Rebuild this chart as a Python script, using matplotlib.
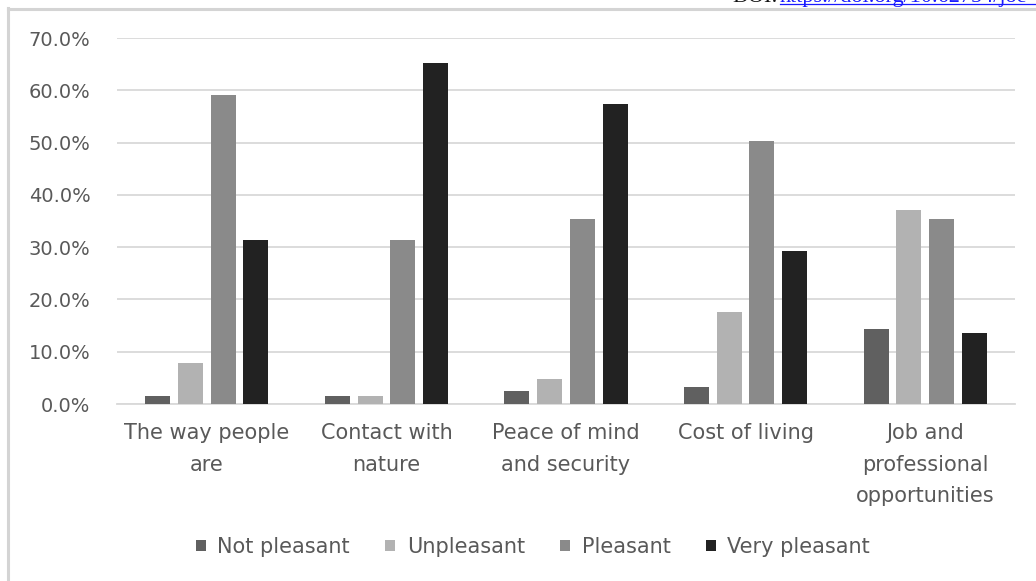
import matplotlib
matplotlib.use("Agg")
import matplotlib.pyplot as plt
import numpy as np
from matplotlib.ticker import PercentFormatter
from matplotlib.lines import Line2D
from matplotlib.patches import Patch

categories = ["The way people\nare", "Contact with\nnature", "Peace of mind\nand security",
              "Cost of living", "Job and\nprofessional\nopportunities"]
series_names = ["Not pleasant", "Unpleasant", "Pleasant", "Very pleasant"]
not_pleasant = [1.5, 1.5, 2.5, 3.2, 14.3]
unpleasant = [7.8, 1.5, 4.8, 17.6, 37.1]
pleasant = [59.1, 31.4, 35.3, 50.3, 35.3]
very_pleasant = [31.4, 65.2, 57.4, 29.3, 13.6]
yticks = [0, 10, 20, 30, 40, 50, 60, 70]

colors = ["#606060", "#b2b2b2", "#8a8a8a", "#222222"]
text_color = "#595959"
grid_color = "#d9d9d9"

plt.rcParams["font.family"] = ["DejaVu Sans"]

W, H = 1036, 581
fig = plt.figure(figsize=(W / 100, H / 100), dpi=100)
ax = fig.add_axes([117 / W, 1 - 404 / H, (1015 - 117) / W, (404 - 38) / H])

x = np.arange(len(categories))
slot = 0.182
width = 0.139
data = [not_pleasant, unpleasant, pleasant, very_pleasant]
for i, (vals, c, name) in enumerate(zip(data, colors, series_names)):
    ax.bar(x + (i - 1.5) * slot, vals, width, color=c, label=name, zorder=3)

ax.set_xlim(-0.5, len(categories) - 0.5)
ax.set_ylim(0, 70)
ax.set_yticks(yticks)
ax.yaxis.set_major_formatter(PercentFormatter(decimals=1))
ax.yaxis.grid(True, color=grid_color, linewidth=1.3, zorder=0)
ax.set_xticks(x)
ax.set_xticklabels(categories, linespacing=1.72)
ax.tick_params(axis="y", length=0, pad=19, labelsize=14, labelcolor=text_color)
ax.tick_params(axis="x", length=0, pad=14, labelsize=15, labelcolor=text_color)
for s in ["top", "right", "left"]:
    ax.spines[s].set_visible(False)
ax.spines["bottom"].set_color(grid_color)
ax.spines["bottom"].set_linewidth(1.3)

handles = [Patch(facecolor=c, edgecolor="none") for c in colors]
leg = fig.legend(handles, series_names, loc="center", bbox_to_anchor=(533 / W, 1 - 547 / H),
                 ncol=4, frameon=False, fontsize=15, handlelength=0.48, handleheight=0.48,
                 handletextpad=0.55, columnspacing=1.7, labelcolor=text_color)

# page frame lines and the running header above the figure
fig.add_artist(Line2D([8 / W, 8 / W], [0, 1 - 8 / H], color="#d4d4d4", linewidth=2.2,
                      transform=fig.transFigure))
fig.add_artist(Line2D([8 / W, 1], [1 - 9 / H, 1 - 9 / H], color="#d4d4d4", linewidth=2.2,
                      transform=fig.transFigure))
serif = ["Liberation Serif", "DejaVu Serif"]
fig.text(732 / W, 1 - 2 / H, "DOI:", family=serif, fontsize=16, color="#111111",
         va="baseline", ha="left")
fig.text(780 / W, 1 - 2 / H, "https://doi.org/10.62754/joe", family=serif, fontsize=16,
         color="#1a1aff", va="baseline", ha="left")
fig.add_artist(Line2D([780 / W, 1], [1 - 4 / H, 1 - 4 / H], color="#1a1aff", linewidth=0.9,
                      transform=fig.transFigure))

fig.savefig("out.png", dpi=100, facecolor="white")
